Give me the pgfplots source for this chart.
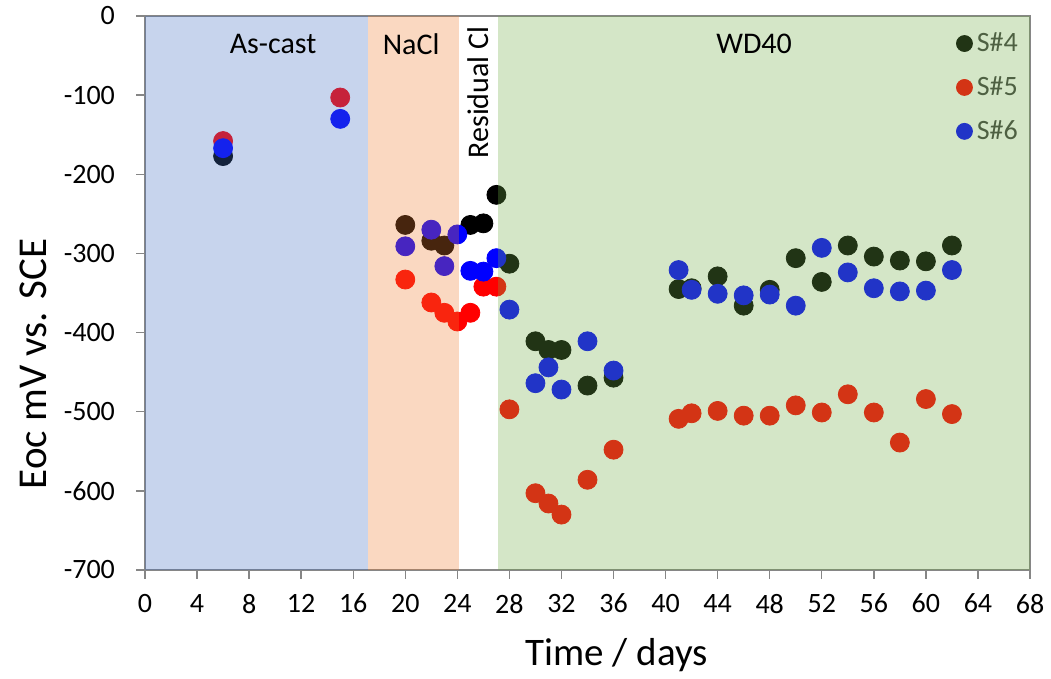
\documentclass[border=0pt]{standalone}
\usepackage{fontspec}
\setmainfont{Carlito}
\usepackage{pgfplots}
\pgfplotsset{compat=1.18}
\definecolor{ovblue}{RGB}{68,114,196}
\definecolor{ovorange}{RGB}{237,125,49}
\definecolor{ovgreen}{RGB}{112,173,71}
\definecolor{m4}{RGB}{0,0,0}
\definecolor{m5}{RGB}{255,0,0}
\definecolor{m6}{RGB}{0,0,255}
\definecolor{legtext}{RGB}{64,64,64}
\definecolor{axgray}{RGB}{134,134,134}
\begin{document}
\begin{tikzpicture}
\begin{axis}[
  set layers,
  scale only axis, width=442.5pt, height=277pt,
  xmin=0, xmax=68, ymin=-700, ymax=0,
  xtick={0,4,...,68}, ytick={-700,-600,...,0},
  xtick pos=bottom, ytick pos=left,
  tick align=outside, major tick length=4.5pt,
  axis line style={axgray, line width=0.7pt},
  tick style={axgray, line width=0.7pt},
  /pgf/number format/assume math mode=true,
  ticklabel style={font=\fontsize{14}{16}\selectfont, text=black},
  xticklabel style={yshift=-4pt},
  yticklabel style={xshift=-7pt},
  xlabel={Time / days}, ylabel={Eoc mV vs. SCE},
  xlabel style={font=\fontsize{19.5}{23}\selectfont, at={(axis description cs:0.533,-0.1534)}, anchor=center},
  ylabel style={font=\fontsize{20.5}{24}\selectfont, at={(axis description cs:-0.1266,0.372)}, anchor=center},
  legend style={at={(axis description cs:0.916,0.978)}, anchor=north west,
    draw=none, fill=none, inner sep=0pt, row sep=7pt,
    font=\fontsize{14}{16}\selectfont, text=legtext},
  legend cell align=left,
]
% S#4
\addplot[only marks, mark=*, mark size=4.75pt, color=m4, forget plot] coordinates {
(6,-177) (20,-264) (22,-284) (23,-290) (25,-264) (26,-262) (27,-226) (28,-313)
(30,-411) (31,-422) (32,-422) (34,-467) (36,-457) (41,-345) (42,-344) (44,-329)
(46,-366) (48,-346) (50,-306) (52,-336) (54,-290) (56,-304) (58,-309) (60,-310) (62,-290)};
% S#5
\addplot[only marks, mark=*, mark size=4.75pt, color=m5, forget plot] coordinates {
(6,-158) (15,-103) (20,-333) (22,-362) (23,-375) (24,-386) (25,-375) (26,-342)
(27,-342) (28,-497) (30,-603) (31,-616) (32,-630) (34,-586) (36,-548) (41,-509)
(42,-502) (44,-499) (46,-505) (48,-505) (50,-492) (52,-501) (54,-478) (56,-501)
(58,-539) (60,-484) (62,-503)};
% S#6
\addplot[only marks, mark=*, mark size=4.75pt, color=m6, forget plot] coordinates {
(6,-167) (15,-130) (20,-291) (22,-270) (23,-316) (24,-276) (25,-322) (26,-323)
(27,-306) (28,-371) (30,-464) (31,-444) (32,-472) (34,-411) (36,-448) (41,-321)
(42,-346) (44,-351) (46,-353) (48,-352) (50,-366) (52,-293) (54,-324) (56,-344)
(58,-348) (60,-347) (62,-321)};
% translucent region overlays, on top of the markers
\begin{pgfonlayer}{axis foreground}
\fill[ovblue, fill opacity=0.3] (axis cs:0,-700) rectangle (axis cs:17.1,0);
\fill[ovorange, fill opacity=0.3] (axis cs:17.1,-700) rectangle (axis cs:24.15,0);
\fill[ovgreen, fill opacity=0.3] (axis cs:27.1,-700) rectangle (axis cs:68,0);
\node[font=\fontsize{15}{18}\selectfont] at (axis cs:9.84,-35.4) {As-cast};
\node[font=\fontsize{15}{18}\selectfont] at (axis cs:20.45,-35.4) {NaCl};
\node[font=\fontsize{15}{18}\selectfont] at (axis cs:46.8,-35.4) {WD40};
\node[font=\fontsize{15}{18}\selectfont, rotate=90] at (axis cs:25.6,-96.7) {Residual Cl};
\end{pgfonlayer}
% legend
\addlegendimage{legend image code/.code={\fill[m4] (4pt,0pt) circle (4pt);}}
\addlegendentry{S\#4}
\addlegendimage{legend image code/.code={\fill[m5] (4pt,0pt) circle (4pt);}}
\addlegendentry{S\#5}
\addlegendimage{legend image code/.code={\fill[m6] (4pt,0pt) circle (4pt);}}
\addlegendentry{S\#6}
\end{axis}
\path ([xshift=-72.5pt,yshift=-53pt]current axis.south west) rectangle ([xshift=10.5pt,yshift=8pt]current axis.north east);
\end{tikzpicture}
\end{document}
